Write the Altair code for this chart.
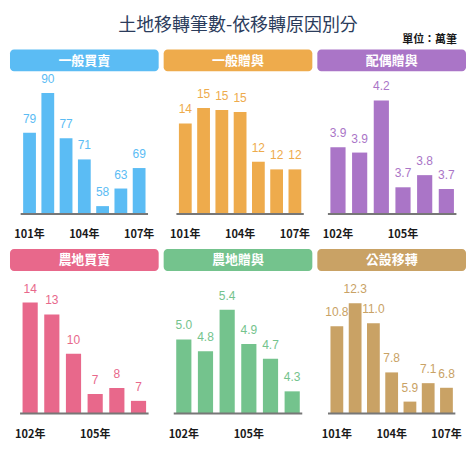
import altair as alt
import pandas as pd

# ---------------- data ----------------
title_text = "土地移轉筆數-依移轉原因別分"
unit_text = "單位：萬筆"

years7 = ["101年", "102年", "103年", "104年", "105年", "106年", "107年"]
years6 = ["102年", "103年", "104年", "105年", "106年", "107年"]
ticks7 = ["101年", "104年", "107年"]
ticks6 = ["102年", "105年"]

general_sale = [78.6, 89.7, 77.1, 71.2, 58.2, 63.1, 68.8]
general_gift = [14.4, 15.2, 15.1, 15.0, 12.4, 12.0, 12.0]
spouse_gift = [3.93, 3.90, 4.20, 3.70, 3.77, 3.69]
farm_sale = [14.4, 13.45, 10.3, 7.07, 7.55, 6.52]
farm_gift = [5.0, 4.84, 5.4, 4.94, 4.74, 4.3]
public_transfer = [10.8, 12.3, 11.0, 7.8, 5.9, 7.1, 6.8]

# name, years, ticks, values, color, label format, axis base value, px per unit, band align
panels = [
    ("一般買賣", years7, ticks7, general_sale, "#5bbcf4", ".0f", 56.0, 3.6, 0.5),
    ("一般贈與", years7, ticks7, general_gift, "#eeab4c", ".0f", 9.67, 19.2, 0.58),
    ("配偶贈與", years6, ticks6, spouse_gift, "#aa75c7", ".1f", 3.546, 174.0, 0.52),
    ("農地買賣", years6, ticks6, farm_sale, "#e8688b", ".0f", 5.5, 12.5, 0.5),
    ("農地贈與", years6, ticks6, farm_gift, "#74c38d", ".1f", 4.0, 74.3, 0.5),
    ("公設移轉", years7, ticks7, public_transfer, "#c9a265", ".1f", 5.12, 15.4, 0.5),
]

# ---------------- layout ----------------
W = 149
H = 195
BASE_PX = 165      # baseline pixel row inside panel
HEADER_H = 22
LABEL_PX = 186
FONT = "Liberation Sans, Noto Sans CJK TC, sans-serif"
CJK = "Noto Sans CJK TC, Liberation Sans, sans-serif"


def panel(name, years, ticks, values, color, fmt, base, spp, align):
    n = len(years)
    pi = 0.3
    po = 0.72 if n == 7 else 0.58
    step = W / (n - pi + 2 * po)
    start = (W - step * (n - pi)) * align
    bw = step * (1 - pi)
    lo = base - (H - BASE_PX) / spp
    hi = lo + H / spp

    df = pd.DataFrame({"year": years, "value": values})
    df["label"] = [format(v, fmt) for v in values]
    tdf = pd.DataFrame({"year": ticks})
    hdf = pd.DataFrame({"name": [name]})

    xs = alt.Scale(domain=years, paddingInner=pi, paddingOuter=po, align=align)
    ys = alt.Scale(domain=[lo, hi], zero=False, nice=False)
    x = alt.X("year:N", scale=xs, axis=None, sort=years)

    bars = alt.Chart(df).mark_bar(color=color).encode(
        x=x,
        y=alt.Y("value:Q", scale=ys, axis=None),
        y2=alt.datum(base),
    )
    labels = alt.Chart(df).mark_text(
        fill=color, fontSize=12, font=FONT, baseline="middle", dy=-14
    ).encode(x=x, y=alt.Y("value:Q", scale=ys), text="label:N")
    rule = alt.Chart(hdf).mark_rule(color="#777777", strokeWidth=2).encode(
        x=alt.value(start - 2.5),
        x2=alt.value(start + (n - 1) * step + bw + 2.5),
        y=alt.value(BASE_PX),
    )
    ticktext = alt.Chart(tdf).mark_text(
        fill="#1a1a1a", fontSize=11, font=CJK, fontWeight="bold", baseline="middle"
    ).encode(x=x, y=alt.value(LABEL_PX), text="year:N")
    header = alt.Chart(hdf).mark_rect(fill=color, cornerRadius=4).encode(
        x=alt.value(0), x2=alt.value(W), y=alt.value(0), y2=alt.value(HEADER_H)
    )
    htext = alt.Chart(hdf).mark_text(
        fill="#ffffff", fontSize=13, fontWeight="bold", font=CJK,
        baseline="middle", align="center"
    ).encode(x=alt.value(W / 2), y=alt.value(HEADER_H / 2 + 0.5), text="name:N")

    return alt.layer(header, bars, labels, rule, ticktext, htext).properties(
        width=W, height=H
    )


charts = [panel(*p) for p in panels]

TW = 3 * W + 2 * 5
top = alt.layer(
    alt.Chart(pd.DataFrame({"t": [title_text]})).mark_text(
        fontSize=18, fill="#2b3c5c", font=CJK, baseline="middle", align="center"
    ).encode(x=alt.value(TW / 2), y=alt.value(17.5), text="t:N"),
    alt.Chart(pd.DataFrame({"t": [unit_text]})).mark_text(
        fontSize=11, fill="#1a1a1a", font=CJK, fontWeight="bold",
        baseline="middle", align="right"
    ).encode(x=alt.value(TW - 9), y=alt.value(32), text="t:N"),
).properties(width=TW, height=35)

row1 = alt.hconcat(*charts[:3], spacing=5)
row2 = alt.hconcat(*charts[3:], spacing=5)

chart = alt.vconcat(top, alt.vconcat(row1, row2, spacing=5), spacing=4).properties(
    padding={"left": 2, "top": 0, "right": 0, "bottom": 0}
).configure_view(stroke=None)

chart.save("out.html", embed_options={"renderer": "svg", "actions": False})
